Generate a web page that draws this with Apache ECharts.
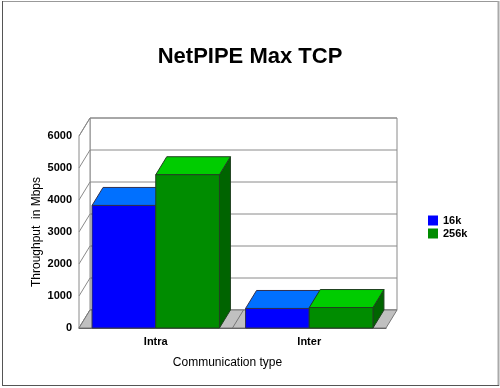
<!DOCTYPE html>
<html><head><meta charset="utf-8">
<script src="https://cdn.jsdelivr.net/npm/echarts@6/dist/echarts.min.js"></script>
<style>html,body{margin:0;padding:0;background:#fff}#c{width:500px;height:388px}</style>
</head><body><div id="c"></div>
<script>
const categories = ['Intra', 'Inter'];
const series16k = [3830, 610];
const series256k = [4790, 640];
const seriesNames = ['16k', '256k'];
const yTicks = [0, 1000, 2000, 3000, 4000, 5000, 6000];

const DX = 11, DY = -18;
const BAR_FRAC = 0.415;
const FONT = 'Arial, "Liberation Sans", sans-serif';

function barRender(side, colors) {
  return function (params, api) {
    const ci = api.value(0), v = api.value(1);
    const base = api.coord([ci, 0]);
    const top = api.coord([ci, v]);
    const bw = api.size([1, 0])[0] * BAR_FRAC;
    const x0 = side === 0 ? base[0] - bw : base[0];
    const x1 = x0 + bw;
    const y0 = base[1], y1 = top[1];
    const stroke = colors.stroke;
    return {
      type: 'group', children: [
        { type: 'polygon', shape: { points: [[x1, y0], [x1 + DX, y0 + DY], [x1 + DX, y1 + DY], [x1, y1]] }, style: { fill: colors.side, stroke: stroke, lineWidth: 1 } },
        { type: 'polygon', shape: { points: [[x0, y1], [x1, y1], [x1 + DX, y1 + DY], [x0 + DX, y1 + DY]] }, style: { fill: colors.top, stroke: stroke, lineWidth: 1 } },
        { type: 'rect', shape: { x: x0, y: y1, width: bw, height: y0 - y1 }, style: { fill: colors.front, stroke: stroke, lineWidth: 1 } }
      ]
    };
  };
}

function wallRender(params, api) {
  const bw = api.size([1, 0])[0];
  const c0 = api.coord([0, 0]);
  const xl = c0[0] - bw / 2, xr = xl + bw * categories.length;
  const yb = c0[1];
  const ytop = api.coord([0, yTicks[yTicks.length - 1]])[1];
  const ch = [];
  const lc = '#8a8a8a';
  ch.push({ type: 'rect', shape: { x: xl + DX, y: ytop + DY, width: xr - xl, height: yb - ytop }, style: { fill: '#fff', stroke: lc, lineWidth: 1 } });
  ch.push({ type: 'polygon', shape: { points: [[xl, yb], [xl + DX, yb + DY], [xl + DX, ytop + DY], [xl, ytop]] }, style: { fill: '#fff', stroke: lc, lineWidth: 1 } });
  yTicks.forEach(function (t) {
    const y = api.coord([0, t])[1];
    ch.push({ type: 'line', shape: { x1: xl + DX, y1: y + DY, x2: xr + DX, y2: y + DY }, style: { stroke: lc, lineWidth: 1 } });
    ch.push({ type: 'line', shape: { x1: xl, y1: y, x2: xl + DX, y2: y + DY }, style: { stroke: lc, lineWidth: 1 } });
  });
  ch.push({ type: 'polygon', shape: { points: [[xl, yb], [xr, yb], [xr + DX, yb + DY], [xl + DX, yb + DY]] }, style: { fill: '#c0c0c0', stroke: '#777', lineWidth: 1 } });
  for (let i = 1; i < categories.length; i++) {
    const x = xl + i * bw;
    ch.push({ type: 'line', shape: { x1: x, y1: yb, x2: x + DX, y2: yb + DY }, style: { stroke: '#777', lineWidth: 1 } });
  }
  return { type: 'group', children: ch };
}

const chart = echarts.init(document.getElementById('c'), null, { renderer: 'canvas' });
chart.setOption({
  animation: false,
  backgroundColor: '#fff',
  title: {
    text: 'NetPIPE Max TCP', left: 'center', top: 41,
    textStyle: { fontFamily: FONT, fontWeight: 'bold', fontSize: 22, color: '#000' }
  },
  legend: {
    data: seriesNames, orient: 'vertical', left: 423, top: 210,
    itemWidth: 10, itemHeight: 10, itemGap: 2, icon: 'rect',
    textStyle: { fontFamily: FONT, fontWeight: 'bold', fontSize: 11, color: '#000' }
  },
  grid: { left: 79, right: 114, top: 136, bottom: 60, outerBoundsMode: 'none' },
  xAxis: {
    type: 'category', data: categories,
    axisLine: { show: true, lineStyle: { color: '#555', width: 1 } },
    axisTick: { show: false },
    axisLabel: { margin: 8, fontFamily: FONT, fontWeight: 'bold', fontSize: 11, color: '#000' },
    splitLine: { show: false },
    name: 'Communication type', nameLocation: 'middle', nameGap: 29, nameMoveOverlap: false,
    nameTextStyle: { fontFamily: FONT, fontSize: 12, color: '#000', padding: [0, 10, 0, 0] }
  },
  yAxis: {
    type: 'value', min: 0, max: 6000, interval: 1000,
    axisLine: { show: true, lineStyle: { color: '#555', width: 1 } },
    axisTick: { show: false },
    axisLabel: { margin: 7, fontFamily: FONT, fontWeight: 'bold', fontSize: 11, color: '#000',
      formatter: function (v) { return String(v); } },
    splitLine: { show: false },
    name: 'Throughput  in Mbps', nameLocation: 'middle', nameGap: 36, nameMoveOverlap: false,
    nameTextStyle: { fontFamily: FONT, fontSize: 12, color: '#000' }
  },
  series: [
    { type: 'custom', name: 'walls', renderItem: wallRender, data: [[0, 0]], silent: true, z: 1 },
    {
      type: 'custom', name: seriesNames[0], z: 2,
      itemStyle: { color: '#0000ff' },
      renderItem: barRender(0, { front: '#0000ff', top: '#0070ff', side: '#0000a0', stroke: '#303050' }),
      data: series16k.map(function (v, i) { return [i, v]; })
    },
    {
      type: 'custom', name: seriesNames[1], z: 3,
      itemStyle: { color: '#008c00' },
      renderItem: barRender(1, { front: '#008c00', top: '#00cc00', side: '#006400', stroke: '#204020' }),
      data: series256k.map(function (v, i) { return [i, v]; })
    }
  ],
  graphic: [
    { type: 'line', shape: { x1: 2, y1: 1.5, x2: 498, y2: 1.5 }, style: { stroke: '#999', lineWidth: 1 } },
    { type: 'line', shape: { x1: 2.5, y1: 1, x2: 2.5, y2: 386 }, style: { stroke: '#555', lineWidth: 1 } },
    { type: 'line', shape: { x1: 498.5, y1: 1, x2: 498.5, y2: 386 }, style: { stroke: '#aaa', lineWidth: 2 } },
    { type: 'line', shape: { x1: 2, y1: 385.5, x2: 499, y2: 385.5 }, style: { stroke: '#555', lineWidth: 1 } }
  ]
});
</script></body></html>
